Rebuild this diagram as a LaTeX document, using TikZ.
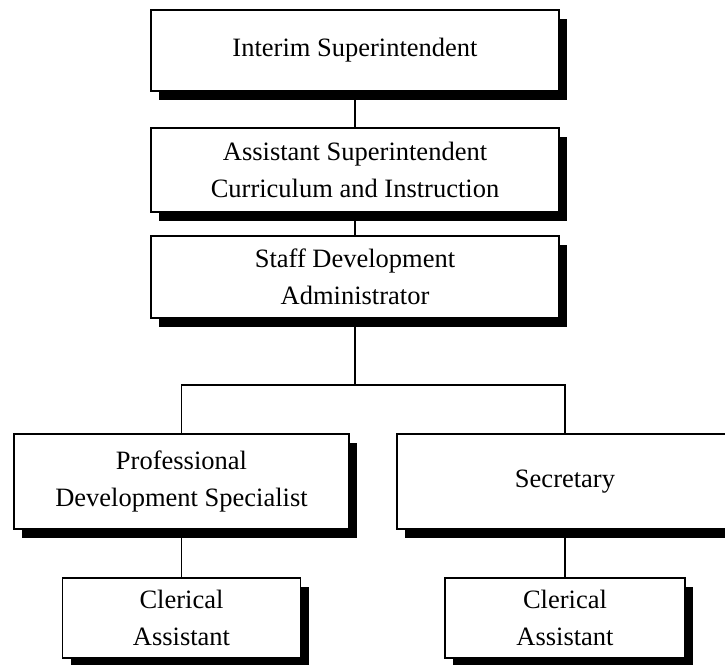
\documentclass[tikz,border=0pt]{standalone}
\usepackage{fontspec}
\setmainfont{Liberation Serif}
\usetikzlibrary{shadows,backgrounds}

\begin{document}
\begin{tikzpicture}[x=1pt,y=-1pt,
  orgbox/.style={draw=black, line width=1.5pt, fill=white,
    inner sep=0pt, align=center,
    font=\fontsize{26.5}{37}\selectfont,
    drop shadow={shadow xshift=8pt, shadow yshift=-9pt, fill=black, opacity=1}},
  link/.style={draw=black, line width=1.5pt}]

\useasboundingbox (0,0) rectangle (725,664);
\clip (0,0) rectangle (725,664);

% management chain
\node[orgbox, minimum width=408pt, minimum height=81pt] (interim) at (355,50.5)
  {Interim Superintendent};
\node[orgbox, minimum width=408pt, minimum height=84pt] (assist) at (355,170)
  {Assistant Superintendent\\Curriculum and Instruction};
\node[orgbox, minimum width=408pt, minimum height=82pt] (staff) at (355,277)
  {Staff Development\\Administrator};

% second level
\node[orgbox, minimum width=335pt, minimum height=95pt] (prof) at (181.5,481.5)
  {Professional\\Development Specialist};
\node[orgbox, minimum width=336pt, minimum height=95pt] (secr) at (565,481.5)
  {Secretary};

% clerical staff
\node[orgbox, minimum width=238pt, minimum height=80pt] (clerkL) at (181.5,618)
  {Clerical\\Assistant};
\node[orgbox, minimum width=240pt, minimum height=80pt] (clerkR) at (565,618)
  {Clerical\\Assistant};

\coordinate (split) at (355,385);

% connectors sit behind the boxes and their shadows
\begin{pgfonlayer}{background}
  \fill[white] (0,0) rectangle (725,664);
  \draw[link] (interim.south) -- (assist.north);
  \draw[link] (assist.south) -- (staff.north);
  \draw[link] (staff.south) -- (split);
  \draw[link] (prof.north) |- (split) -| (secr.north);
  \draw[link] (prof.south) -- (clerkL.north);
  \draw[link] (secr.south) -- (clerkR.north);
\end{pgfonlayer}
\end{tikzpicture}
\end{document}
